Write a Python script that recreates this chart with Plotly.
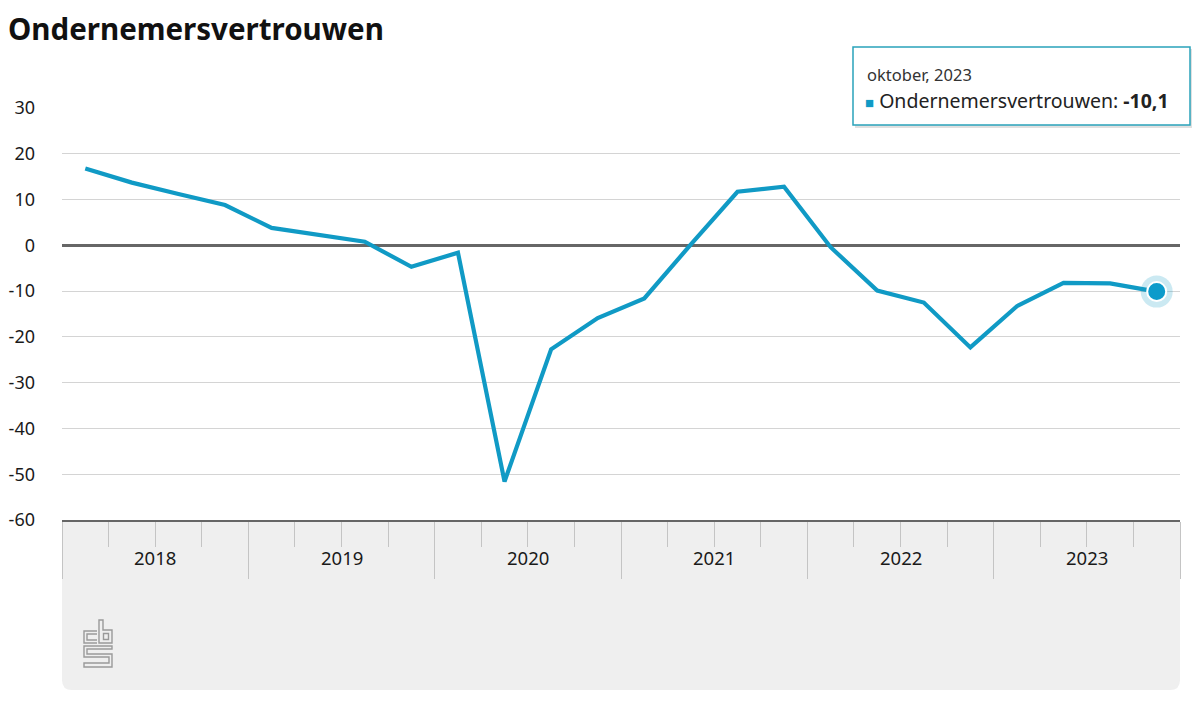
import plotly.graph_objects as go

title = "Ondernemersvertrouwen"
years = ["2018", "2019", "2020", "2021", "2022", "2023"]
quarters_per_year = 4
values = [16.8, 13.7, 11.2, 8.8, 3.8, 2.4, 0.8, -4.7, -1.6, -51.6, -22.7, -15.9,
          -11.6, 0.2, 11.7, 12.8, -0.4, -9.9, -12.5, -22.3, -13.3, -8.2, -8.3, -10.1]
y_ticks = [30, 20, 10, 0, -10, -20, -30, -40, -50, -60]
tooltip_date = "oktober, 2023"
tooltip_value = "-10,1"

LINE = "#109ac5"
OFF = 8  # page body margin
W, H = 1200 - OFF, 705 - OFF
L, R, T, B = 62 - OFF, 20, 108 - OFF, 185
PW, PH = W - L - R, H - T - B

def px(x):
    return (x - OFF - L) / PW

def py(y):
    return (H - B - (y - OFF)) / PH

n = len(values)
xs = list(range(n))

fig = go.Figure()
fig.add_trace(go.Scatter(x=xs, y=values, mode="lines",
                         line=dict(color=LINE, width=4.2), hoverinfo="skip"))
fig.add_trace(go.Scatter(x=[xs[-1]], y=[values[-1]], mode="markers",
                         marker=dict(size=32, color="rgba(16,154,197,0.22)", line=dict(width=0)),
                         hoverinfo="skip"))
fig.add_trace(go.Scatter(x=[xs[-1]], y=[values[-1]], mode="markers",
                         marker=dict(size=19, color="#0c9bcb", line=dict(width=2, color="white")),
                         hoverinfo="skip"))

year_bounds = [i * quarters_per_year - 0.5 for i in range(len(years) + 1)]
quarter_ticks = [i - 0.5 for i in range(1, n) if i % quarters_per_year != 0]

shapes = []
x0, x1, y0, y1, r = px(62), px(1180), py(520), py(690), 10
rx, ry = r / PW, r / PH
shapes.append(dict(type="path", xref="paper", yref="paper", layer="below",
                   path=(f"M {x0},{y0} L {x1},{y0} L {x1},{y1+ry} Q {x1},{y1} {x1-rx},{y1} "
                         f"L {x0+rx},{y1} Q {x0},{y1} {x0},{y1+ry} Z"),
                   fillcolor="#efefef", line=dict(width=0)))

def P(pts, close=True):
    s = "M " + " L ".join(f"{px(a)},{py(b)}" for a, b in pts)
    return s + (" Z" if close else "")

logo_paths = [
    P([(97, 631), (84, 631), (84, 643), (97, 643)], close=False),
    P([(97, 634), (87, 634), (87, 640), (97, 640)], close=False),
    P([(99, 620), (103, 620), (103, 630), (112, 630), (112, 643), (99, 643)]),
    P([(103.5, 633.5), (108.5, 633.5), (108.5, 639.5), (103.5, 639.5)]),
    P([(112, 646), (84, 646), (84, 657), (109, 657), (109, 663), (84, 663), (84, 667),
       (112, 667), (112, 654), (87, 654), (87, 649), (112, 649)]),
]
for p in logo_paths:
    shapes.append(dict(type="path", xref="paper", yref="paper", path=p,
                       line=dict(color="#9a9a9a", width=1.4), fillcolor="rgba(0,0,0,0)"))

shapes.append(dict(type="rect", xref="paper", yref="paper",
                   x0=px(855), x1=px(1193), y0=py(49), y1=py(128),
                   fillcolor="rgba(0,0,0,0.12)", line=dict(width=0)))
shapes.append(dict(type="rect", xref="paper", yref="paper",
                   x0=px(853), x1=px(1190), y0=py(47), y1=py(125),
                   fillcolor="white", line=dict(color="#2aa3bb", width=1.5)))

annotations = []
for i, yr in enumerate(years):
    annotations.append(dict(x=(year_bounds[i] + year_bounds[i + 1]) / 2, xref="x",
                            y=py(557), yref="paper", text=yr, showarrow=False,
                            font=dict(size=18.5, color="#1a1a1a", family="Noto Sans"),
                            xanchor="center", yanchor="middle"))
annotations.append(dict(x=px(865), y=py(74), xref="paper", yref="paper",
                        text=tooltip_date, showarrow=False, xanchor="left", yanchor="middle",
                        font=dict(size=16.5, color="#333", family="Noto Sans")))
annotations.append(dict(x=px(863), y=py(100), xref="paper", yref="paper",
                        text=(f"<span style='color:{LINE};font-size:15px'>■</span> "
                              f"Ondernemersvertrouwen: <b>{tooltip_value}</b>"),
                        showarrow=False, xanchor="left", yanchor="middle",
                        font=dict(size=19.5, color="#222", family="Noto Sans")))
# chart title
annotations.append(dict(x=px(6), y=py(28), xref="paper", yref="paper",
                        text=f"<b>{title}</b>", showarrow=False, xanchor="left", yanchor="middle",
                        font=dict(size=29.5, color="#111", family="Noto Sans")))

fig.update_layout(
    width=W, height=H,
    margin=dict(l=L, r=R, t=T, b=B, autoexpand=False),
    paper_bgcolor="white", plot_bgcolor="white",
    showlegend=False,
    font=dict(family="Noto Sans", color="#222"),
    shapes=shapes,
    annotations=annotations,
    xaxis=dict(range=[-0.5, n - 0.5], showgrid=False, zeroline=False,
               tickmode="array", tickvals=year_bounds, ticktext=[""] * len(year_bounds),
               ticks="outside", ticklen=57, tickcolor="#c4c4c4", tickwidth=1,
               showline=True, linecolor="#666", linewidth=1.5,
               minor=dict(tickmode="array", tickvals=quarter_ticks, ticks="outside",
                          ticklen=25, tickcolor="#c4c4c4", tickwidth=1),
               automargin=False, fixedrange=True),
    yaxis=dict(range=[-60, 30], tickmode="array", tickvals=y_ticks,
               ticktext=[str(v) for v in y_ticks],
               showgrid=True, gridcolor="#d4d4d4", gridwidth=1,
               zeroline=True, zerolinecolor="#666", zerolinewidth=2.5,
               ticks="", ticklabelstandoff=26,
               tickfont=dict(size=18, color="#1a1a1a", family="Noto Sans"),
               showline=False, automargin=False, fixedrange=True),
)

fig.write_html("out.html")
